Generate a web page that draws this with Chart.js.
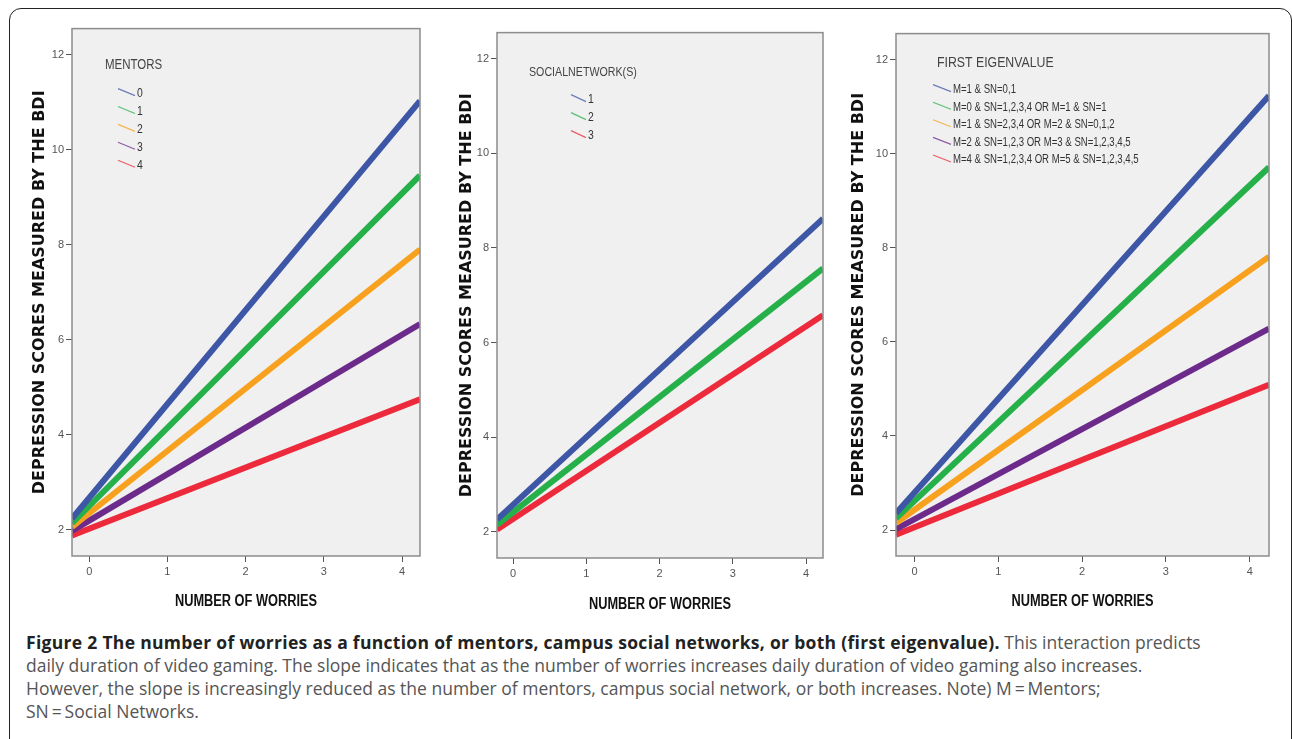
<!DOCTYPE html>
<html>
<head>
<meta charset="utf-8">
<script src="https://cdn.jsdelivr.net/npm/chart.js@4.4.1/dist/chart.umd.min.js"></script>
<style>
    body { margin: 0; background: #fff; width: 1292px; height: 739px; overflow: hidden; position: relative; font-family: 'Open Sans', sans-serif; }
    .frame { position: absolute; left: 9px; top: 8px; width: 1281px; height: 780px; border: 1.5px solid #222; border-radius: 12px; }
    .panel { position: absolute; }
    .caption { position: absolute; left: 26px; top: 631px; font-size: 17.5px; line-height: 23px; color: #555; white-space: nowrap; }
    .caption b { color: #222; font-weight: 700; letter-spacing: 0.3px; }
</style>
</head>
<body>
<div class="frame"></div>
<div class="panel" style="left:14px;top:20px;width:410px;height:606px"><canvas id="chartMentors"></canvas></div>
<div class="panel" style="left:439px;top:24px;width:388px;height:604px"><canvas id="chartSocial"></canvas></div>
<div class="panel" style="left:838px;top:25px;width:435px;height:601px"><canvas id="chartEigen"></canvas></div>
<div class="caption">
<b>Figure 2 The number of worries as a function of mentors, campus social networks, or both (first eigenvalue).</b> This interaction predicts<br>
daily duration of video gaming. The slope indicates that as the number of worries increases daily duration of video gaming also increases.<br>
However, the slope is increasingly reduced as the number of mentors, campus social network, or both increases. Note) M&thinsp;=&thinsp;Mentors;<br>
SN&thinsp;=&thinsp;Social Networks.
</div>
<script>
// fitted line endpoints (number of worries) and axis ticks
const worries = [-0.22, 4.23];
const xTicks = [0, 1, 2, 3, 4];
const yTicks = [2, 4, 6, 8, 10, 12];
const yRange = [1.45, 12.55];

const lineColors = ['#3d56a6', '#26b04a', '#f7a11e', '#6c2b8b', '#ec2a3b'];

const mentorLabels = ['0', '1', '2', '3', '4'];
const mentorStart = [2.24, 2.14, 2.06, 1.98, 1.88];
const mentorEnd = [11.03, 9.46, 7.9, 6.33, 4.75];

const socialLabels = ['1', '2', '3'];
const socialStart = [2.26, 2.15, 2.05];
const socialEnd = [8.62, 7.57, 6.58];
const socialColors = ['#3d56a6', '#26b04a', '#ec2a3b'];

const eigenLabels = [
    'M=1 & SN=0,1',
    'M=0 & SN=1,2,3,4 OR M=1 & SN=1',
    'M=1 & SN=2,3,4 OR M=2 & SN=0,1,2',
    'M=2 & SN=1,2,3 OR M=3 & SN=1,2,3,4,5',
    'M=4 & SN=1,2,3,4 OR M=5 & SN=1,2,3,4,5'
];
const eigenStart = [2.36, 2.25, 2.15, 2.02, 1.9];
const eigenEnd = [11.23, 9.71, 7.81, 6.28, 5.09];

const sans = "'Liberation Sans', Arial, sans-serif";
const xTitle = 'NUMBER OF WORRIES';

// no condensed font installed, so squeeze the text horizontally
function narrowText(ctx, text, x, y, sx, align) {
    ctx.save();
    ctx.translate(x, y);
    ctx.scale(sx, 1);
    ctx.textAlign = align || 'left';
    ctx.fillText(text, 0, 0);
    ctx.restore();
}

// grey plot background + frame + condensed x title
const plotFrame = {
    id: 'plotFrame',
    beforeDraw(chart) {
        const { ctx, chartArea: a } = chart;
        ctx.save();
        ctx.fillStyle = '#f0f0f0';
        ctx.fillRect(a.left, a.top, a.right - a.left, a.bottom - a.top);
        ctx.restore();
    },
    afterDatasetsDraw(chart, args, o) {
        const { ctx, chartArea: a } = chart;
        ctx.save();
        ctx.strokeStyle = '#8c8c8c';
        ctx.lineWidth = 1.5;
        ctx.strokeRect(a.left, a.top, a.right - a.left, a.bottom - a.top);
        ctx.fillStyle = '#111';
        ctx.font = `bold 16px ${sans}`;
        ctx.textBaseline = 'middle';
        narrowText(ctx, xTitle, (a.left + a.right) / 2, a.bottom + o.titleDy, 0.8, 'center');
        ctx.restore();
    }
};

// SPSS style legend sitting inside the plot
const spssLegend = {
    id: 'spssLegend',
    afterDraw(chart, args, o) {
        const { ctx, chartArea: a } = chart;
        ctx.save();
        ctx.textBaseline = 'middle';
        ctx.fillStyle = '#444';
        ctx.font = `${o.titleSize}px ${sans}`;
        narrowText(ctx, o.title, a.left + o.titleX, a.top + o.titleY, 0.82);
        ctx.font = `${o.itemSize}px ${sans}`;
        chart.data.datasets.forEach((ds, i) => {
            const y = a.top + o.itemY + i * o.step;
            const x0 = a.left + o.glyphX;
            ctx.globalAlpha = 0.75;
            ctx.strokeStyle = ds.borderColor;
            ctx.lineWidth = 1.2;
            ctx.beginPath();
            ctx.moveTo(x0, y - 5);
            ctx.lineTo(x0 + o.glyphW, y + 2);
            ctx.stroke();
            ctx.globalAlpha = 1;
            ctx.fillStyle = '#333';
            narrowText(ctx, ds.label, x0 + o.glyphW + 2, y, 0.8);
        });
        ctx.restore();
    }
};

function buildDatasets(labels, starts, ends, colors) {
    return labels.map((l, i) => ({
        label: l,
        data: [{ x: worries[0], y: starts[i] }, { x: worries[1], y: ends[i] }],
        borderColor: colors[i],
        borderWidth: 6,
        borderCapStyle: 'butt',
        pointRadius: 0,
        fill: false
    }));
}

function makePanel(id, datasets, legend, yTitlePad, xTitleDy) {
    return new Chart(document.getElementById(id), {
        type: 'line',
        data: { datasets: datasets },
        plugins: [plotFrame, spssLegend],
        options: {
            responsive: true,
            maintainAspectRatio: false,
            animation: false,
            layout: { padding: { top: 8, right: 4, left: 0, bottom: 0 } },
            plugins: {
                legend: { display: false },
                tooltip: { enabled: false },
                spssLegend: legend,
                plotFrame: { titleDy: xTitleDy }
            },
            scales: {
                x: {
                    type: 'linear',
                    min: worries[0],
                    max: worries[1],
                    afterBuildTicks: s => { s.ticks = xTicks.map(v => ({ value: v })); },
                    afterFit: s => { s.height = 70; },
                    grid: { drawOnChartArea: false, tickLength: 6, tickColor: '#555', tickWidth: 1 },
                    border: { display: false },
                    ticks: { color: '#555', font: { family: sans, size: 11 }, padding: 3 }
                },
                y: {
                    min: yRange[0],
                    max: yRange[1],
                    afterBuildTicks: s => { s.ticks = yTicks.map(v => ({ value: v })); },
                    afterFit: s => { s.width = 58; },
                    grid: { drawOnChartArea: false, tickLength: 6, tickColor: '#555', tickWidth: 1 },
                    border: { display: false },
                    ticks: { color: '#555', font: { family: sans, size: 11 }, padding: 2 },
                    title: {
                        display: true, text: 'DEPRESSION SCORES MEASURED BY THE BDI', color: '#111',
                        font: { family: "'DejaVu Sans', sans-serif", size: 16, weight: 'bold' },
                        padding: { top: yTitlePad, bottom: 0 }
                    }
                }
            }
        }
    });
}

makePanel('chartMentors',
    buildDatasets(mentorLabels, mentorStart, mentorEnd, lineColors),
    { title: 'MENTORS', titleSize: 14, titleX: 33, titleY: 37, itemSize: 13, glyphX: 46, glyphW: 17, itemY: 65, step: 17.9 },
    16, 46);

makePanel('chartSocial',
    buildDatasets(socialLabels, socialStart, socialEnd, socialColors),
    { title: 'SOCIALNETWORK(S)', titleSize: 13, titleX: 32, titleY: 40, itemSize: 13, glyphX: 74, glyphW: 15, itemY: 67, step: 18 },
    18, 47);

makePanel('chartEigen',
    buildDatasets(eigenLabels, eigenStart, eigenEnd, lineColors),
    { title: 'FIRST EIGENVALUE', titleSize: 15, titleX: 41, titleY: 29, itemSize: 12, glyphX: 37, glyphW: 18, itemY: 56, step: 17.6 },
    11, 46);
</script>
</body>
</html>
